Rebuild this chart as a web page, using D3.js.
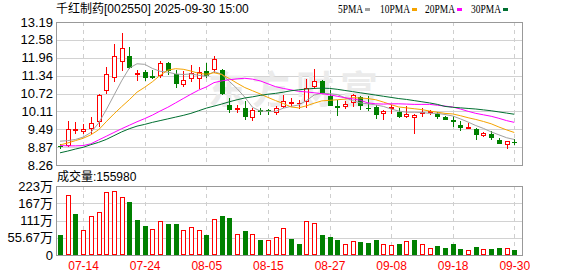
<!DOCTYPE html>
<meta charset="utf-8">
<style>
  body { margin: 0; background: #fff; }
  svg text { font-family: "Liberation Sans", Arial, "Noto Sans CJK SC", sans-serif; }
</style>
<script src="https://d3js.org/d3.v7.min.js"></script>
<div id="chart"></div>
<script>

// trading days shown
var dates = ["07-09","07-10","07-11","07-14","07-15","07-16","07-17","07-18","07-21","07-22",
  "07-23","07-24","07-25","07-28","07-29","07-30","07-31","08-01","08-04","08-05",
  "08-06","08-07","08-08","08-11","08-12","08-13","08-14","08-15","08-18","08-19",
  "08-20","08-21","08-22","08-25","08-26","08-27","08-28","08-29","09-01","09-02",
  "09-03","09-04","09-05","09-08","09-09","09-10","09-11","09-12","09-15","09-16",
  "09-17","09-18","09-19","09-22","09-23","09-24","09-25","09-26","09-29","09-30"];

var open = [8.92,8.96,9.46,9.44,9.54,9.76,10.85,11.29,11.83,12.02,
  11.39,11.45,11.33,11.37,11.79,11.39,11.05,11.26,11.26,11.50,
  11.56,11.54,10.34,10.19,10.22,9.91,10.15,10.16,10.07,10.30,
  10.41,10.39,10.45,10.97,11.16,10.65,10.30,10.28,10.42,10.60,
  10.23,10.26,10.05,10.24,10.08,9.94,9.92,10.06,10.09,10.02,
  9.92,9.82,9.65,9.54,9.50,9.28,9.34,9.11,8.99,9.07];
var high = [8.97,9.79,9.73,9.68,9.91,10.72,11.65,12.43,12.82,12.34,
  11.55,11.54,11.54,11.83,11.80,11.54,11.50,11.71,11.65,11.77,
  12.02,11.56,10.58,10.34,10.45,10.22,10.22,10.19,10.30,10.68,
  10.57,10.51,11.22,11.56,11.18,10.85,10.51,10.45,10.70,10.65,
  10.65,10.34,10.15,10.34,10.22,10.30,10.01,10.22,10.17,10.08,
  9.95,9.96,9.76,9.70,9.52,9.39,9.44,9.19,9.09,9.14];
var low = [8.85,8.91,9.35,9.37,9.37,9.62,10.74,11.14,11.54,11.60,
  11.20,11.20,11.25,11.29,11.40,10.95,10.99,11.14,10.93,11.30,
  11.48,10.72,10.07,10.09,9.85,9.80,10.03,10.03,10.03,10.26,
  10.30,10.22,10.26,10.91,10.74,10.32,9.97,10.22,10.30,10.19,
  10.17,9.88,9.85,10.05,9.92,9.93,9.37,9.96,10.03,9.88,
  9.83,9.62,9.48,9.54,9.14,9.27,9.17,9.01,8.84,8.97];
var close = [8.90,9.50,9.49,9.51,9.71,10.68,11.39,12.02,12.29,11.63,
  11.43,11.29,11.31,11.77,11.52,11.10,11.20,11.43,11.48,11.37,
  11.91,10.74,10.19,10.22,9.94,10.14,10.13,10.14,10.22,10.45,
  10.43,10.41,10.91,11.16,10.76,10.34,10.27,10.37,10.68,10.34,
  10.21,10.03,10.12,10.27,9.96,10.03,10.00,10.09,10.12,9.94,
  9.85,9.77,9.56,9.58,9.33,9.35,9.21,9.02,9.08,9.05];
var prevClose = 8.95;

var volume = [649000,1924000,1330000,811000,1254000,1384000,2032000,2065000,1870000,1719000,
  1135000,940000,832000,1092000,1005000,1005000,800000,897000,800000,649000,
  1157000,1265000,1200000,670000,778000,670000,486000,476000,573000,865000,
  519000,357000,1092000,1027000,649000,584000,486000,346000,443000,422000,
  389000,486000,346000,313000,357000,443000,486000,346000,227000,292000,
  227000,357000,195000,151000,259000,184000,195000,227000,227000,155980];

var ma5 = [9.08,9.10,9.14,9.22,9.38,9.70,10.16,10.66,11.16,11.60,
  11.75,11.73,11.59,11.49,11.46,11.40,11.38,11.40,11.35,11.32,
  11.48,11.39,11.14,10.89,10.60,10.25,10.12,10.11,10.11,10.22,
  10.28,10.33,10.48,10.67,10.73,10.72,10.69,10.58,10.48,10.40,
  10.37,10.33,10.28,10.19,10.12,10.08,10.08,10.07,10.04,10.04,
  10.00,9.95,9.85,9.74,9.62,9.52,9.40,9.30,9.20,9.14];
var ma10 = [8.95,9.02,9.10,9.18,9.30,9.47,9.75,10.02,10.27,10.51,
  10.77,10.94,11.13,11.35,11.53,11.58,11.56,11.50,11.42,11.39,
  11.44,11.38,11.24,11.08,10.93,10.82,10.71,10.59,10.48,10.38,
  10.26,10.23,10.30,10.39,10.47,10.49,10.51,10.53,10.58,10.57,
  10.55,10.51,10.43,10.34,10.26,10.23,10.20,10.17,10.12,10.08,
  10.04,10.02,9.96,9.89,9.83,9.76,9.68,9.57,9.47,9.38];
var ma20 = [8.93,8.92,8.92,8.93,8.99,9.12,9.25,9.38,9.51,9.63,
  9.75,9.86,9.98,10.12,10.25,10.40,10.55,10.70,10.84,10.95,
  11.10,11.16,11.20,11.23,11.25,11.22,11.16,11.06,10.96,10.90,
  10.85,10.80,10.78,10.75,10.72,10.68,10.63,10.58,10.54,10.49,
  10.40,10.37,10.36,10.37,10.37,10.36,10.35,10.35,10.35,10.32,
  10.29,10.26,10.19,10.11,10.04,9.99,9.94,9.87,9.79,9.73];
var ma30 = [8.68,8.74,8.81,8.87,8.96,9.04,9.14,9.27,9.40,9.51,
  9.60,9.66,9.73,9.79,9.85,9.91,9.97,10.04,10.13,10.22,
  10.29,10.36,10.44,10.51,10.57,10.61,10.66,10.70,10.73,10.77,
  10.82,10.85,10.88,10.90,10.91,10.90,10.87,10.83,10.79,10.75,
  10.71,10.67,10.63,10.59,10.55,10.52,10.48,10.44,10.40,10.35,
  10.28,10.25,10.23,10.21,10.19,10.16,10.13,10.09,10.05,10.01];

var priceTicks = ["13.19","12.58","11.96","11.34","10.72","10.11","9.49","8.87","8.26"];
var volTickValues = [0, 556700, 1113400, 1670100, 2226800];
var volTickLabels = ["0","55.67万","111万","167万","223万"];
var dateLabels = ["07-14","07-24","08-05","08-15","08-27","09-08","09-18","09-30"];

var maNames = ["5PMA","10PMA","20PMA","30PMA"];
var maColors = ["#a0a0a0","#f5a300","#ff00ff","#006f30"];

var left = 56, right = 522, pTop = 22, pBot = 165, vTop = 186, vBot = 255;

var svg = d3.select("#chart").append("svg")
  .attr("width", 578).attr("height", 276)
  .style("display", "block");

var x = d3.scalePoint().domain(dates).range([60, 514.3]);
var y = d3.scaleLinear().domain([8.26, 13.19]).range([pBot, pTop]);
var yv = d3.scaleLinear().domain([0, 2226800]).range([vBot, vTop]);

function px(v) { return Math.round(v) + 0.5; }

var grid = svg.append("g").attr("shape-rendering", "crispEdges");

// horizontal grid
priceTicks.forEach(function(t) {
  grid.append("line")
    .attr("x1", left).attr("x2", right)
    .attr("y1", px(y(+t))).attr("y2", px(y(+t)))
    .attr("stroke", "#d2d2d2");
});
volTickValues.forEach(function(t) {
  grid.append("line")
    .attr("x1", left).attr("x2", right)
    .attr("y1", px(yv(t))).attr("y2", px(yv(t)))
    .attr("stroke", "#d2d2d2");
});

// vertical dashed grid
dateLabels.forEach(function(d) {
  [[pTop, pBot], [vTop, vBot]].forEach(function(r) {
    grid.append("line")
      .attr("x1", px(x(d))).attr("x2", px(x(d)))
      .attr("y1", r[0]).attr("y2", r[1])
      .attr("stroke", "#cfcfcf")
      .attr("stroke-dasharray", "4,4");
  });
});

// watermark
svg.append("text")
  .attr("x", 208).attr("y", 103)
  .attr("textLength", 170).attr("lengthAdjust", "spacing")
  .style("font-family", "'Noto Sans CJK SC'")
  .style("font-size", "38px").style("font-weight", "bold")
  .attr("fill", "#ebebeb")
  .text("东方财富");

// frames
[[pTop, pBot], [vTop, vBot]].forEach(function(r) {
  grid.append("rect")
    .attr("x", left + 0.5).attr("y", r[0] + 0.5)
    .attr("width", right - left).attr("height", r[1] - r[0])
    .attr("fill", "none").attr("stroke", "#999");
});

// candles
var cg = svg.append("g").attr("shape-rendering", "crispEdges");
dates.forEach(function(d, i) {
  var cx = Math.round(x(d));
  var up = close[i] >= open[i];
  var col = up ? "#ff0000" : "#008000";
  cg.append("line")
    .attr("x1", cx + 0.5).attr("x2", cx + 0.5)
    .attr("y1", Math.round(y(high[i]))).attr("y2", Math.round(y(low[i])) + 1)
    .attr("stroke", col);
  var yt = Math.round(y(Math.max(open[i], close[i])));
  var yb = Math.round(y(Math.min(open[i], close[i])));
  if (yb - yt < 2) {
    cg.append("rect")
      .attr("x", cx - 2).attr("y", yt).attr("width", 5).attr("height", Math.max(1, yb - yt + 1))
      .attr("fill", col);
  } else if (up) {
    cg.append("rect")
      .attr("x", cx - 1.5).attr("y", yt + 0.5).attr("width", 4).attr("height", yb - yt)
      .attr("fill", "#fff").attr("stroke", col);
  } else {
    cg.append("rect")
      .attr("x", cx - 2).attr("y", yt).attr("width", 5).attr("height", yb - yt + 1)
      .attr("fill", col);
  }
});

// moving averages
[ma5, ma10, ma20, ma30].forEach(function(arr, k) {
  var line = d3.line()
    .x(function(v, i) { return x(dates[i]); })
    .y(function(v) { return y(v); });
  svg.append("path")
    .datum(arr)
    .attr("d", line)
    .attr("fill", "none")
    .attr("stroke", maColors[k])
    .attr("stroke-width", 1);
});

// volume bars, colour by change against the previous close
var vg = svg.append("g").attr("shape-rendering", "crispEdges");
dates.forEach(function(d, i) {
  var cx = Math.round(x(d));
  var ref = i === 0 ? prevClose : close[i - 1];
  var up = close[i] >= ref;
  var top = Math.round(yv(volume[i]));
  if (up) {
    vg.append("rect")
      .attr("x", cx - 1.5).attr("y", top + 0.5).attr("width", 4).attr("height", vBot - top - 1)
      .attr("fill", "#fff").attr("stroke", "#ff0000");
  } else {
    vg.append("rect")
      .attr("x", cx - 2).attr("y", top).attr("width", 5).attr("height", vBot - top)
      .attr("fill", "#008000");
  }
});

// axis labels
priceTicks.forEach(function(t) {
  svg.append("text")
    .attr("x", 53).attr("y", y(+t)).attr("dy", "0.36em")
    .attr("text-anchor", "end")
    .style("font-size", "13px").attr("fill", "#000")
    .text(t);
});
volTickValues.forEach(function(t, k) {
  svg.append("text")
    .attr("x", 53).attr("y", yv(t)).attr("dy", "0.36em")
    .attr("text-anchor", "end")
    .style("font-size", "13px").attr("fill", "#000")
    .text(volTickLabels[k]);
});
dateLabels.forEach(function(d) {
  svg.append("text")
    .attr("x", x(d) + 0.5).attr("y", 270)
    .attr("text-anchor", "middle")
    .style("font-size", "12px").attr("fill", "#ff0000")
    .text(d);
});

// title and volume caption
svg.append("text")
  .attr("x", 56).attr("y", 13)
  .style("font-size", "12px").attr("fill", "#000")
  .text("千红制药[002550] 2025-09-30 15:00");
svg.append("text")
  .attr("x", 57).attr("y", 181)
  .style("font-size", "12px").attr("fill", "#000")
  .text("成交量:" + volume[volume.length - 1]);

// legend
var legendX = [338, 380, 425, 471];
var legendW = [25, 30, 30, 30];
maNames.forEach(function(n, k) {
  svg.append("text")
    .attr("x", legendX[k]).attr("y", 13)
    .attr("textLength", legendW[k]).attr("lengthAdjust", "spacingAndGlyphs")
    .style("font-family", "'Liberation Serif', serif")
    .style("font-size", "13.5px").attr("fill", "#000")
    .text(n);
  svg.append("rect")
    .attr("x", legendX[k] + legendW[k] + 2).attr("y", 8)
    .attr("width", 5).attr("height", 3)
    .attr("fill", maColors[k]);
});

</script>
